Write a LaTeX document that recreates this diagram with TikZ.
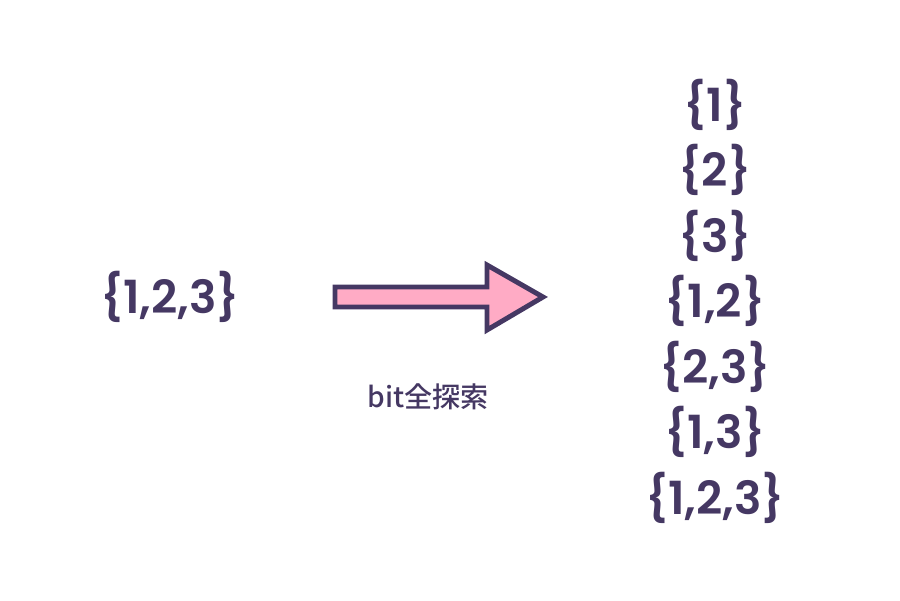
\documentclass[tikz,border=0pt]{standalone}
\usepackage{fontspec}
\setmainfont{Poppins}[UprightFont=* Medium, BoldFont=* SemiBold]
\newfontfamily\jpfont{Noto Sans CJK JP}[UprightFont=* Medium]
\definecolor{ink}{HTML}{453863}
\definecolor{rosa}{HTML}{FFABC5}

\begin{document}
\begin{tikzpicture}[x=0.02cm, y=-0.02cm,
  setlabel/.style={text=ink, font=\bfseries\fontsize{26}{31}\selectfont, inner sep=0pt},
  steplabel/.style={text=ink, font=\jpfont\fontsize{16}{19}\selectfont, inner sep=0pt}]
 \useasboundingbox (0,0) rectangle (900,600);
 % input set
 \node[setlabel] (full) at (170,297) {\{1,2,3\}};
 % arrow
 \draw[ink, fill=rosa, line width=2.8pt, line join=miter]
  (335,287) -- (487,287) -- (487,265) -- (543,297) -- (487,330) -- (487,307) -- (335,307) -- cycle;
 \node[steplabel] (bitlabel) at (428,397) {bit全探索};
 % subsets
 \node[setlabel] (s1) at (715,105) {\{1\}};
 \node[setlabel] (s2) at (715,170) {\{2\}};
 \node[setlabel] (s3) at (715,236) {\{3\}};
 \node[setlabel] (s4) at (715,301) {\{1,2\}};
 \node[setlabel] (s5) at (715,367) {\{2,3\}};
 \node[setlabel] (s6) at (715,432) {\{1,3\}};
 \node[setlabel] (s7) at (715,498) {\{1,2,3\}};
\end{tikzpicture}
\end{document}
